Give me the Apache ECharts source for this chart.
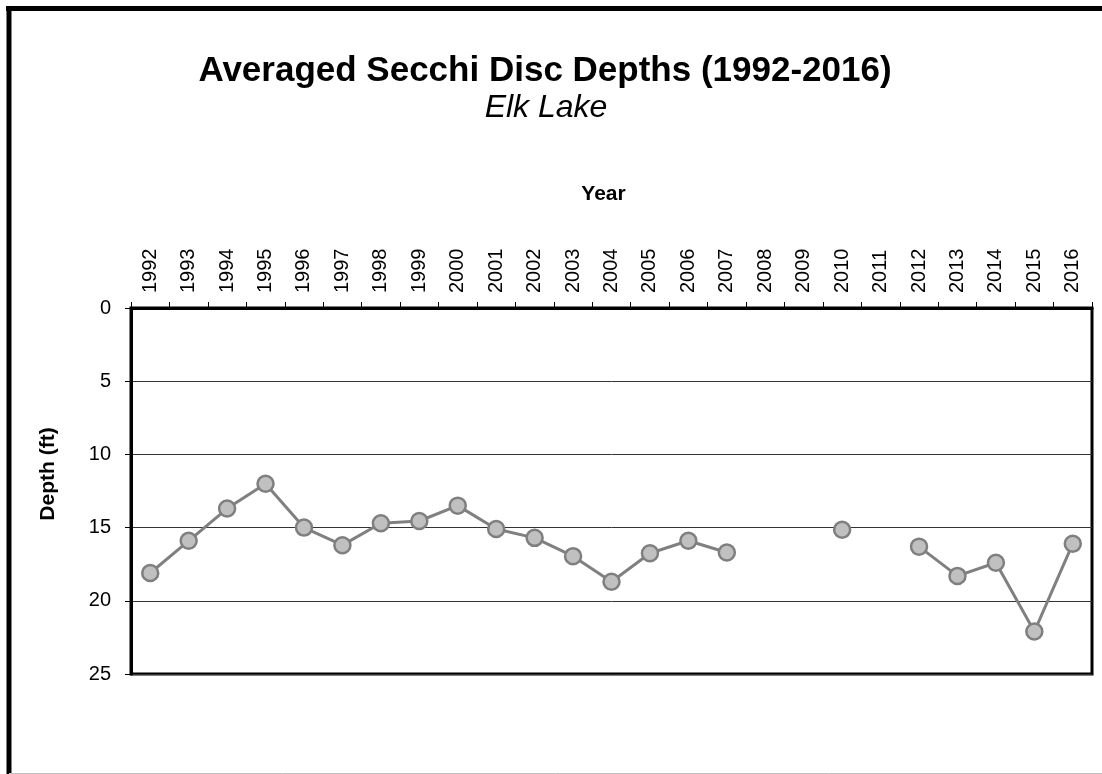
<!DOCTYPE html>
<html>
<head>
<meta charset="utf-8">
<title>Averaged Secchi Disc Depths - Elk Lake</title>
<script src="https://cdn.jsdelivr.net/npm/echarts@6/dist/echarts.min.js"></script>
<style>
  html, body { margin: 0; padding: 0; background: #fff; }
  #chart { width: 1102px; height: 774px; }
</style>
</head>
<body>
<div id="chart"></div>
<script>
// years on the top axis
var years = ["1992", "1993", "1994", "1995", "1996", "1997", "1998", "1999", "2000",
  "2001", "2002", "2003", "2004", "2005", "2006", "2007", "2008", "2009", "2010",
  "2011", "2012", "2013", "2014", "2015", "2016"];
// averaged secchi depth (ft), null = no reading that year
var depths = [18.1, 15.9, 13.7, 12.0, 15.0, 16.2, 14.7, 14.55, 13.5,
  15.1, 15.7, 16.95, 18.7, 16.75, 15.9, 16.7, null, null, 15.15,
  null, 16.3, 18.3, 17.4, 22.1, 16.1];
var depthTicks = [0, 5, 10, 15, 20, 25];

var font = "'Liberation Sans', Arial, sans-serif";
var myChart = echarts.init(document.getElementById("chart"));

myChart.setOption({
  backgroundColor: "#fff",
  animation: false,
  title: [
    {
      text: "Averaged Secchi Disc Depths (1992-2016)",
      left: 540,
      top: 49,
      textAlign: "center",
      textStyle: { fontFamily: font, fontSize: 35, fontWeight: "bold", color: "#000" }
    },
    {
      text: "Elk Lake",
      left: 541,
      top: 87,
      textAlign: "center",
      textStyle: { fontFamily: font, fontSize: 32, fontStyle: "italic", fontWeight: "normal", color: "#000" }
    }
  ],
  // outer frame of the original figure
  graphic: [
    { type: "line", shape: { x1: 6, y1: 8.5, x2: 1102, y2: 8.5 }, style: { stroke: "#000", lineWidth: 5 } },
    { type: "line", shape: { x1: 9, y1: 6, x2: 9, y2: 774 }, style: { stroke: "#000", lineWidth: 5 } },
    { type: "line", shape: { x1: 9, y1: 773.5, x2: 1102, y2: 773.5 }, style: { stroke: "#c0c0c0", lineWidth: 1 } }
  ],
  grid: {
    left: 131,
    right: 10,
    top: 308,
    bottom: 100,
    show: true,
    borderColor: "#000",
    borderWidth: 3
  },
  xAxis: {
    type: "category",
    position: "top",
    data: years,
    boundaryGap: true,
    name: "Year",
    nameLocation: "middle",
    nameGap: 103,
    nameTextStyle: { fontFamily: font, fontSize: 21, fontWeight: "bold", color: "#000", padding: [0, 16, 0, 0] },
    axisLine: { show: true, lineStyle: { color: "#000", width: 3 } },
    axisTick: { show: true, inside: false, length: 6, alignWithLabel: false, lineStyle: { color: "#000", width: 1 } },
    axisLabel: {
      rotate: 90,
      margin: 15,
      interval: 0,
      fontFamily: font,
      fontSize: 20,
      color: "#000"
    },
    splitLine: { show: false }
  },
  yAxis: {
    type: "value",
    inverse: true,
    min: depthTicks[0],
    max: depthTicks[depthTicks.length - 1],
    interval: 5,
    name: "Depth (ft)",
    nameLocation: "middle",
    nameGap: 72,
    nameRotate: 90,
    nameTextStyle: { fontFamily: font, fontSize: 21, fontWeight: "bold", color: "#000", padding: [0, 0, 0, 34] },
    axisLine: { show: true, lineStyle: { color: "#000", width: 3 } },
    axisTick: { show: true, inside: false, length: 6, lineStyle: { color: "#000", width: 1 } },
    axisLabel: { margin: 20, fontFamily: font, fontSize: 20, color: "#000" },
    splitLine: { show: true, lineStyle: { color: "#333", width: 1 } }
  },
  series: [
    {
      name: "Depth",
      type: "line",
      data: depths,
      connectNulls: false,
      symbol: "circle",
      symbolSize: 16,
      showAllSymbol: true,
      lineStyle: { color: "#808080", width: 3 },
      itemStyle: { color: "#c0c0c0", borderColor: "#7f7f7f", borderWidth: 2.5 },
      z: 5
    }
  ]
});
</script>
</body>
</html>
